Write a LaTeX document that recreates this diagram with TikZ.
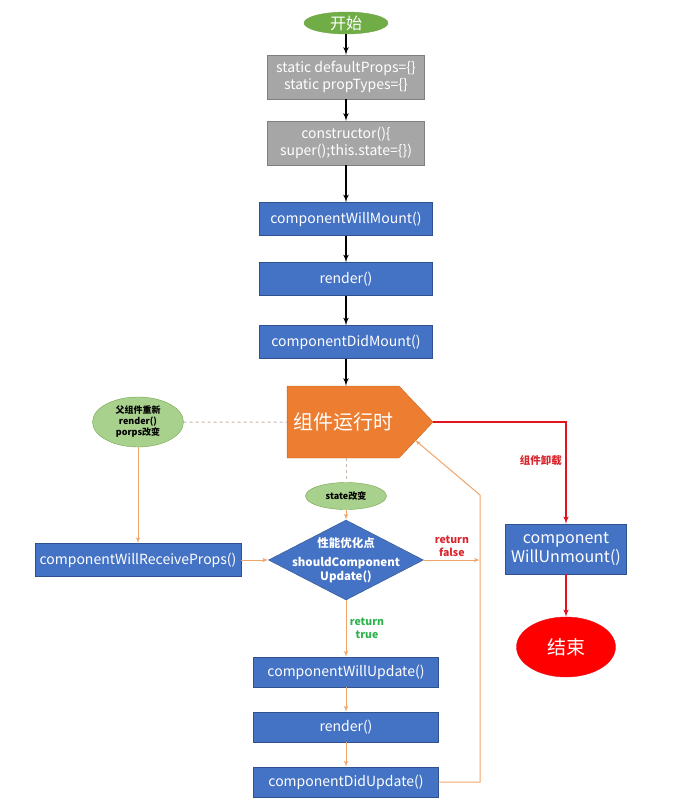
\documentclass[tikz,border=0pt]{standalone}
\usepackage{fontspec}
\setmainfont{Noto Sans CJK SC}
\usepackage{tikz}
\usetikzlibrary{calc, arrows, shapes.geometric, shapes.symbols}
\definecolor{fnblue}{HTML}{4472C4}
\definecolor{fnline}{HTML}{2F528F}
\definecolor{stgray}{HTML}{A6A6A6}
\definecolor{stline}{HTML}{7F7F7F}
\definecolor{evgreen}{HTML}{A9D18E}
\definecolor{evline}{HTML}{6FA548}
\definecolor{stgreen}{HTML}{70AD47}
\definecolor{rtorange}{HTML}{ED7D31}
\definecolor{rtline}{HTML}{C5651F}
\definecolor{updorange}{HTML}{F0A468}
\definecolor{hintgray}{HTML}{C8B4A8}
\definecolor{unred}{HTML}{E4141E}
\definecolor{falsered}{HTML}{D9262E}
\definecolor{truegreen}{HTML}{2EB24D}
\tikzstyle{func}=[draw=fnline, fill=fnblue, text=white, minimum width=173pt, minimum height=33pt, font=\fontsize{14}{17}\selectfont]
\tikzstyle{stat}=[draw=stline, fill=stgray, text=white, minimum width=157pt, minimum height=44pt, align=center, font=\fontsize{14}{17}\selectfont]
\tikzstyle{event}=[ellipse, draw=evline, fill=evgreen, inner sep=0pt, align=center, font=\bfseries\fontsize{9}{11}\selectfont]
\tikzstyle{term}=[ellipse, inner sep=0pt, text=white]
\tikzstyle{main}=[->, line width=1.6pt, black]
\tikzstyle{upd}=[->, line width=1pt, updorange]
\tikzstyle{unmount}=[->, line width=1.5pt, unred]
\tikzstyle{hint}=[dashed, line width=1pt, hintgray]
\tikzstyle{cond}=[align=center, font=\bfseries\fontsize{10.5}{12.5}\selectfont]

\begin{document}
\begin{tikzpicture}[x=1pt, y=-1pt, >=latex']
      \useasboundingbox (0,0) rectangle (692,812);
      % mounting
      \node [term, fill=stgreen, draw=evline, minimum width=84pt, minimum height=22pt, font=\fontsize{16}{18}\selectfont] (s) at (346,23) {开始};
      \node [stat] (a) [below of=s, node distance=54pt] {static defaultProps=\{\}\\static propTypes=\{\}};
      \node [stat] (b) [below of=a, node distance=66pt] {constructor()\{\\super();this.state=\{\})};
      \node [func] (c) [below of=b, node distance=76pt] {componentWillMount()};
      \node [func] (d) [below of=c, node distance=60pt] {render()};
      \node [func] (e) [below of=d, node distance=63pt] {componentDidMount()};
      \node [signal, signal to=east, signal pointer angle=93, fill=rtorange, draw=rtline, text=white, minimum width=146pt, minimum height=72pt, font=\fontsize{20}{22}\selectfont] (rt) at (343,422) {组件运行时};
      % updating
      \node [event, minimum width=91pt, minimum height=50pt] (pp) at (138,422) {父组件重新\\render()\\porps改变};
      \node [event, minimum width=81pt, minimum height=27pt] (st) at (346,496) {state改变};
      \node [func, minimum width=206pt] (wrp) at (138,560) {componentWillReceiveProps()};
      \node [diamond, fill=fnblue, draw=fnline, minimum width=155pt, minimum height=80pt, inner sep=0pt,
        label={[text=white, align=center, font=\bfseries\fontsize{11.5}{14}\selectfont]center:{性能优化点\\[5pt]shouldComponent\\Update()}}] (scu) at (346,560) {};
      \node [func, minimum width=185pt, minimum height=30pt] (wu) at (346,672) {componentWillUpdate()};
      \node [func, minimum width=185pt, minimum height=30pt] (r2) [below of=wu, node distance=55pt] {render()};
      \node [func, minimum width=185pt, minimum height=30pt] (du) [below of=r2, node distance=55pt] {componentDidUpdate()};
      % unmounting
      \node [func, minimum width=121pt, minimum height=50pt, align=center, font=\fontsize{16}{19}\selectfont] (wun) at (566,549) {component\\WillUnmount()};
      \node [term, fill=red, draw=unred, minimum width=99pt, minimum height=60pt, font=\fontsize{19}{21}\selectfont] (end) at (566,647) {结束};
      \coordinate (jn) at (480,560);
      \coordinate (bend) at (480,495);
      \coordinate (back) at (415,440);
      \draw[main] (s) -- (a);
      \draw[main] (a) -- (b);
      \draw[main] (b) -- (c);
      \draw[main] (c) -- (d);
      \draw[main] (d) -- (e);
      \draw[main] (e) -- (e |- rt.north);
      \draw[hint] (pp) -- (rt);
      \draw[hint] (st |- rt.south) -- (st);
      \draw[upd] (pp) -- (wrp);
      \draw[upd] (wrp) -- (scu);
      \draw[upd] (st) -- (scu);
      \draw[upd] (scu) -- node[cond, right, text=truegreen] {return\\true} (wu);
      \draw[upd] (wu) -- (r2);
      \draw[upd] (r2) -- (du);
      \draw[upd] (scu) -- node[cond, above, text=falsered] {return\\false} (jn);
      \draw[upd] (du) -- (du -| jn) -- (bend) -- (back);
      \draw[unmount] (rt.east) -- (rt.east -| wun) -- node[cond, left, pos=0.38, text=falsered] {组件卸载} (wun);
      \draw[unmount] (wun) -- (end);
  \end{tikzpicture}
\end{document}
